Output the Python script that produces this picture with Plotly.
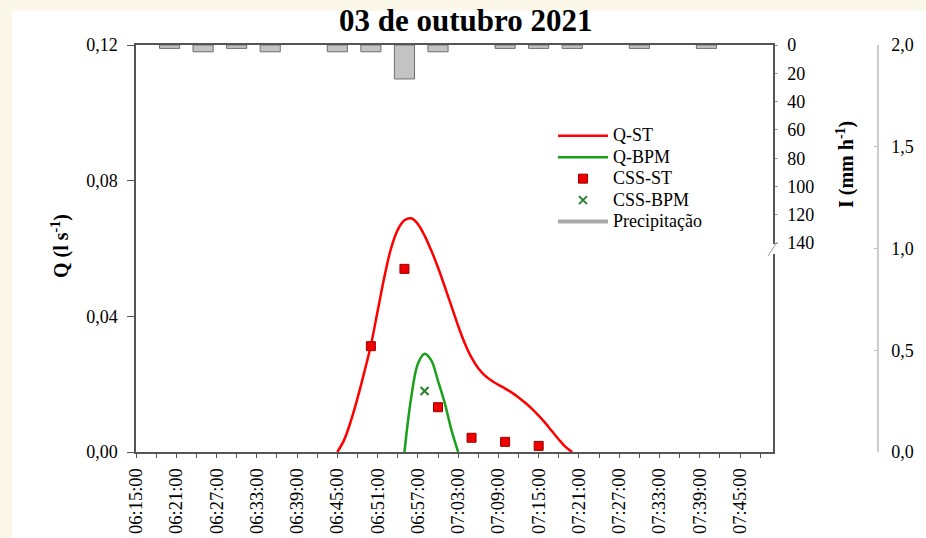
import plotly.graph_objects as go

DAY = "2021-10-03 "

# Rainfall intensity (mm/h), 5-min bins
rain_time = ["06:20", "06:25", "06:30", "06:35", "06:45", "06:50", "06:55",
             "07:00", "07:10", "07:15", "07:20", "07:30", "07:40"]
rain_i = [2.4, 4.8, 2.4, 4.8, 4.8, 4.8, 24.0, 4.8, 2.4, 2.4, 2.4, 2.4, 2.4]

# Discharge, sediment trap (l/s)
q_st_time = ["06:45", "06:46", "06:47", "06:48", "06:49", "06:50", "06:51", "06:52",
             "06:53", "06:54", "06:55", "06:56", "06:57", "06:58", "06:59", "07:00",
             "07:01", "07:02", "07:03", "07:04", "07:05", "07:06", "07:07", "07:08",
             "07:09", "07:10", "07:11", "07:12", "07:13", "07:14", "07:15", "07:16",
             "07:17", "07:18", "07:19", "07:20"]
q_st = [0.0, 0.0035, 0.0090, 0.0158, 0.0234, 0.0315, 0.0415, 0.0515,
        0.0600, 0.0655, 0.0683, 0.0689, 0.0672, 0.0638, 0.0594, 0.0544,
        0.0488, 0.0430, 0.0372, 0.0320, 0.0278, 0.0247, 0.0225, 0.0210,
        0.0198, 0.0187, 0.0175, 0.0161, 0.0145, 0.0127, 0.0107, 0.0085,
        0.0061, 0.0037, 0.0015, 0.0]

# Discharge, BPM plot (l/s)
q_bpm_time = ["06:55", "06:56", "06:57", "06:58", "06:59", "07:00", "07:01", "07:02", "07:03"]
q_bpm = [0.0, 0.016, 0.026, 0.029, 0.027, 0.021, 0.0145, 0.0065, 0.0]

# Suspended sediment concentration (g/l)
css_st_time = ["06:50", "06:55", "07:00", "07:05", "07:10", "07:15"]
css_st = [0.52, 0.90, 0.22, 0.07, 0.05, 0.03]
css_bpm_time = ["06:58"]
css_bpm = [0.30]

q_ticks = [0.0, 0.04, 0.08, 0.12]
i_ticks = [0, 20, 40, 60, 80, 100, 120, 140]
css_ticks = [0.0, 0.5, 1.0, 1.5, 2.0]

W, H = 926, 538
L, R, T, B = 136, 20, 45, 86
PW, PH = W - L - R, H - T - B


def px(xp):
    return (xp - L) / PW


def py(yp):
    return (H - B - yp) / PH


def ts(times):
    return [DAY + t for t in times]


def label(name):
    return '<span style="font-size:18px">' + name + "</span>"


SERIF = "Liberation Serif"
AX = "#555555"

fig = go.Figure()

fig.add_trace(go.Bar(
    x=ts(rain_time), y=rain_i, yaxis="y2", width=180000,
    marker=dict(color="#c3c3c3", line=dict(color="#6e6e6e", width=1)),
    showlegend=False, name="Precipitação"))

fig.add_trace(go.Scatter(
    x=ts(q_st_time), y=q_st, mode="lines", name=label("Q-ST"),
    line=dict(color="#ff0000", width=2.5, shape="spline", smoothing=1.0)))
fig.add_trace(go.Scatter(
    x=ts(q_bpm_time), y=q_bpm, mode="lines", name=label("Q-BPM"),
    line=dict(color="#1aa01a", width=2.5, shape="spline", smoothing=1.0)))
fig.add_trace(go.Scatter(
    x=ts(css_st_time), y=css_st, mode="markers", name=label("CSS-ST"), yaxis="y3",
    marker=dict(symbol="square", size=9, color="#ee0000",
                line=dict(color="#9a0000", width=1))))
fig.add_trace(go.Scatter(
    x=ts(css_bpm_time), y=css_bpm, mode="markers", name=label("CSS-BPM"), yaxis="y3",
    marker=dict(symbol="x-thin", size=8, color="#2a7f2a",
                line=dict(color="#2a7f2a", width=2))))
# legend entry for the rainfall bars
fig.add_trace(go.Scatter(
    x=[None], y=[None], mode="lines", name=label("Precipitação"),
    line=dict(color="#a9a9a9", width=4)))

i_max = PH / 28.3 * 20

fig.update_layout(
    width=W, height=H,
    margin=dict(l=L, r=R, t=T, b=B, pad=0),
    paper_bgcolor="#fbf8ea",
    plot_bgcolor="rgba(0,0,0,0)",
    separators=",.",
    font=dict(family=SERIF, size=18, color="#000000"),
    showlegend=True,
    legend=dict(x=px(553), y=py(120), xanchor="left", yanchor="top",
                bgcolor="rgba(0,0,0,0)", font=dict(family=SERIF, size=14.2),
                tracegroupgap=0, itemwidth=50),
    xaxis=dict(
        type="date", domain=[0, px(773)], automargin=False,
        range=[DAY + "06:15:00", DAY + "07:49:55"],
        tick0=DAY + "06:15:00", dtick=360000, tickformat="%H:%M:%S",
        tickangle=-90, ticks="outside", ticklen=4, tickcolor=AX,
        ticklabelstandoff=3,
        minor=dict(dtick=180000, tick0=DAY + "06:15:00", ticks="outside",
                   ticklen=4, tickcolor=AX),
        showline=True, linecolor=AX, linewidth=1.5, mirror=True,
        showgrid=False, zeroline=False,
        tickfont=dict(family=SERIF, size=18.5)),
    yaxis=dict(
        range=[0, 0.12], tickvals=q_ticks, tickformat=".2f", automargin=False,
        ticks="outside", ticklen=7, tickcolor=AX, ticklabelstandoff=6,
        showline=True, linecolor=AX, linewidth=1.5,
        showgrid=False, zeroline=False,
        tickfont=dict(family=SERIF, size=18)),
    yaxis2=dict(
        overlaying="y", side="right", anchor="x", automargin=False,
        range=[i_max, 0], tickvals=i_ticks,
        ticks="outside", ticklen=3, tickcolor="#999999", ticklabelstandoff=6,
        showline=True, linecolor=AX, linewidth=1.5,
        showgrid=False, zeroline=False,
        tickfont=dict(family=SERIF, size=18)),
    yaxis3=dict(
        overlaying="y", side="right", anchor="free", position=px(878),
        automargin=False,
        range=[0, 2.0], tickvals=css_ticks, tickformat=".1f",
        ticks="inside", ticklen=3, tickcolor="#bbbbbb", ticklabelstandoff=9,
        showline=True, linecolor="#cccccc", linewidth=1.5,
        showgrid=False, zeroline=False,
        tickfont=dict(family=SERIF, size=18)),
    annotations=[
        dict(text="<b>03 de outubro 2021</b>", xref="paper", yref="paper",
             x=px(466), y=py(21), xanchor="center", yanchor="middle",
             showarrow=False, font=dict(family=SERIF, size=31)),
        dict(text="<b>Q (l s<sup>-1</sup>)</b>", xref="paper", yref="paper",
             x=px(60), y=py(246), xanchor="center", yanchor="middle",
             textangle=-90, showarrow=False, font=dict(family=SERIF, size=20)),
        dict(text="<b>I (mm h<sup>-1</sup>)</b>", xref="paper", yref="paper",
             x=px(845), y=py(165), xanchor="center", yanchor="middle",
             textangle=-90, showarrow=False, font=dict(family=SERIF, size=20)),
    ],
    shapes=[
        # white page behind the chart
        dict(type="rect", xref="paper", yref="paper", layer="below",
             x0=px(12), x1=px(W + 20), y0=py(H + 20), y1=py(11),
             fillcolor="#ffffff", line=dict(width=0)),
        # axis break on the intensity axis
        dict(type="rect", xref="paper", yref="paper", layer="above",
             x0=px(771), x1=px(775.5), y0=py(254), y1=py(244),
             fillcolor="#ffffff", line=dict(width=0)),
        dict(type="line", xref="paper", yref="paper", layer="above",
             x0=px(768), x1=px(777), y0=py(256), y1=py(242),
             line=dict(color="#9a9a9a", width=1)),
    ],
)

fig.write_html("out.html")
